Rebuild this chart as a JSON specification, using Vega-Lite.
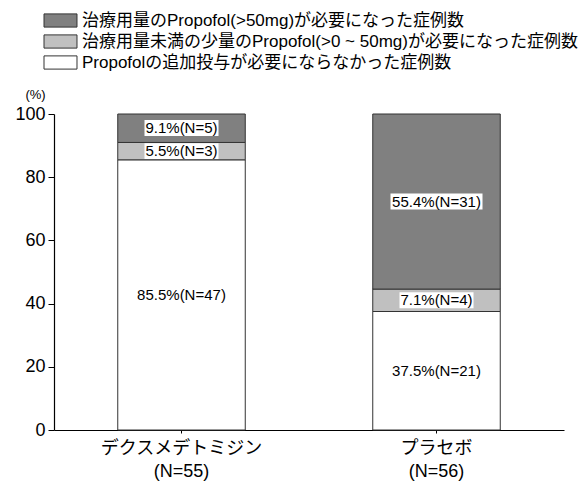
{
  "$schema": "https://vega.github.io/schema/vega-lite/v6.json",
  "width": 510,
  "height": 316,
  "autosize": {"type": "none"},
  "padding": {"left": 54, "top": 114, "right": 19, "bottom": 51},
  "background": "#ffffff",
  "config": {
    "view": {"stroke": null},
    "font": "Liberation Sans, Noto Sans CJK JP, sans-serif"
  },
  "data": {
    "values": [
      {"group": "デクスメデトミジン|(N=55)", "cat": "Propofolの追加投与が必要にならなかった症例数", "ord": 1, "pct": 85.5, "n": 47},
      {"group": "デクスメデトミジン|(N=55)", "cat": "治療用量未満の少量のPropofol(>0 ~ 50mg)が必要になった症例数", "ord": 2, "pct": 5.5, "n": 3},
      {"group": "デクスメデトミジン|(N=55)", "cat": "治療用量のPropofol(>50mg)が必要になった症例数", "ord": 3, "pct": 9.1, "n": 5},
      {"group": "プラセボ|(N=56)", "cat": "Propofolの追加投与が必要にならなかった症例数", "ord": 1, "pct": 37.5, "n": 21},
      {"group": "プラセボ|(N=56)", "cat": "治療用量未満の少量のPropofol(>0 ~ 50mg)が必要になった症例数", "ord": 2, "pct": 7.1, "n": 4},
      {"group": "プラセボ|(N=56)", "cat": "治療用量のPropofol(>50mg)が必要になった症例数", "ord": 3, "pct": 55.4, "n": 31}
    ]
  },
  "transform": [
    {"stack": "pct", "groupby": ["group"], "sort": [{"field": "ord"}], "as": ["y0", "y1"]},
    {"calculate": "(datum.y0 + datum.y1) / 2", "as": "mid"},
    {"calculate": "datum.pct + '%(N=' + datum.n + ')'", "as": "label"}
  ],
  "encoding": {
    "x": {
      "field": "group",
      "type": "nominal",
      "sort": null,
      "scale": {"paddingInner": 0.5, "paddingOuter": 0.25},
      "axis": {
        "title": null,
        "labelAngle": 0,
        "labelExpr": "split(datum.label, '|')",
        "labelFont": "Liberation Sans, Noto Sans CJK JP, sans-serif",
        "labelFontSize": 18,
        "labelLineHeight": 23,
        "labelColor": "#000000",
        "labelPadding": 6,
        "domainColor": "#000000",
        "domainWidth": 1.2,
        "tickColor": "#000000",
        "tickSize": 3
      }
    }
  },
  "layer": [
    {
      "mark": {"type": "bar", "stroke": "#333333", "strokeWidth": 1},
      "encoding": {
        "y": {
          "field": "y1",
          "type": "quantitative",
          "scale": {"domain": [0, 100], "nice": false, "clamp": true},
          "axis": {
            "values": [0, 10, 20, 30, 40, 50, 60, 70, 80, 90, 100],
            "labelExpr": "datum.value % 20 === 0 ? datum.label : ''",
            "grid": false,
            "title": "(%)",
            "titleAngle": 0,
            "titleAlign": "center",
            "titleBaseline": "middle",
            "titleX": -19,
            "titleY": -20,
            "titleFontSize": 13,
            "titleFontWeight": "normal",
            "titleColor": "#000000",
            "labelFontSize": 18,
            "labelColor": "#000000",
            "labelPadding": 3,
            "domainColor": "#000000",
            "domainWidth": 1.2,
            "tickColor": "#000000",
            "tickSize": 6
          }
        },
        "y2": {"field": "y0"},
        "fill": {
          "field": "cat",
          "type": "nominal",
          "scale": {
            "domain": [
              "治療用量のPropofol(>50mg)が必要になった症例数",
              "治療用量未満の少量のPropofol(>0 ~ 50mg)が必要になった症例数",
              "Propofolの追加投与が必要にならなかった症例数"
            ],
            "range": ["#808080", "#c0c0c0", "#ffffff"]
          },
          "legend": {
            "title": null,
            "orient": "none",
            "legendX": -2,
            "legendY": -102,
            "padding": 0,
            "symbolType": "M-2.5,-1H2.5V1H-2.5Z",
            "symbolSize": 174,
            "symbolStrokeColor": "#333333",
            "symbolStrokeWidth": 1,
            "symbolOpacity": 1,
            "labelFontSize": 17,
            "labelColor": "#000000",
            "labelOffset": 13,
            "labelLimit": 600,
            "rowPadding": 2
          }
        }
      }
    },
    {
      "transform": [{"filter": "datum.ord > 1 && length(datum.label) <= 10"}],
      "mark": {"type": "point", "shape": "M-1,-0.216H1V0.216H-1Z", "size": 5476, "filled": true, "fill": "#ffffff", "opacity": 1, "strokeWidth": 0},
      "encoding": {"y": {"field": "mid", "type": "quantitative"}}
    },
    {
      "transform": [{"filter": "datum.ord > 1 && length(datum.label) > 10"}],
      "mark": {"type": "point", "shape": "M-1,-0.174H1V0.174H-1Z", "size": 8464, "filled": true, "fill": "#ffffff", "opacity": 1, "strokeWidth": 0},
      "encoding": {"y": {"field": "mid", "type": "quantitative"}}
    },
    {
      "mark": {"type": "text", "fontSize": 15, "color": "#000000", "baseline": "middle", "align": "center"},
      "encoding": {
        "y": {"field": "mid", "type": "quantitative"},
        "text": {"field": "label"}
      }
    }
  ]
}
